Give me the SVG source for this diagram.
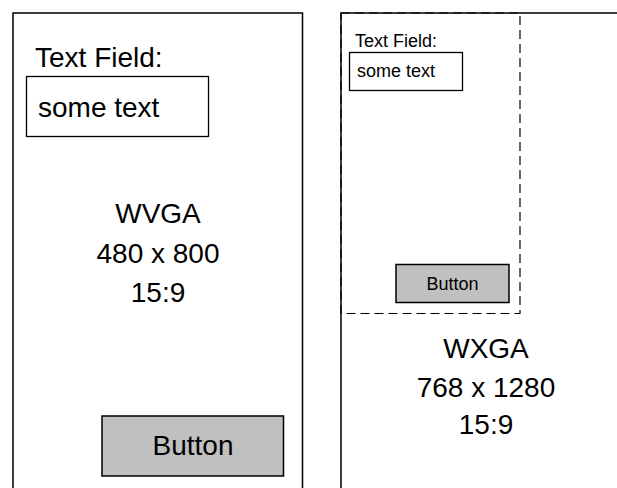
<svg xmlns="http://www.w3.org/2000/svg" width="617" height="488" viewBox="0 0 617 488">
<style>
.frame{fill:none;stroke:#000;stroke-width:1.5}
.box{fill:#fff;stroke:#000;stroke-width:1.3}
.btn{fill:#c0c0c0;stroke:#000;stroke-width:1.5}
.dash{fill:none;stroke:#000;stroke-width:1.2;stroke-dasharray:9 5}
text{font-family:"Liberation Sans",Arial,sans-serif;fill:#000}
.big{font-size:28px}
.small{font-size:18px}
.mid{text-anchor:middle}
</style>
<rect width="617" height="488" fill="#fff"/>
<g id="wvga">
<path class="frame" d="M13,490 V13 H302.5 V490"/>
<text class="big" x="35" y="67">Text Field:</text>
<rect class="box" x="26.5" y="76.5" width="182" height="60"/>
<text class="big" x="38" y="117">some text</text>
<text class="big mid" x="158" y="223">WVGA</text>
<text class="big mid" x="158" y="263">480 x 800</text>
<text class="big mid" x="158" y="302">15:9</text>
<rect class="btn" x="102" y="416" width="181.5" height="60"/>
<text class="big mid" x="193" y="455">Button</text>
</g>
<g id="wxga">
<path class="frame" d="M341,490 V13 H620"/>
<rect class="dash" x="341" y="13" width="179" height="300.5"/>
<text class="small" x="355" y="47">Text Field:</text>
<rect class="box" x="349.5" y="52.5" width="113" height="38"/>
<text class="small" x="357" y="77">some text</text>
<rect class="btn" x="396" y="264.5" width="113" height="38"/>
<text class="small mid" x="452.5" y="289.5">Button</text>
<text class="big mid" x="486" y="358">WXGA</text>
<text class="big mid" x="486" y="397">768 x 1280</text>
<text class="big mid" x="486" y="434">15:9</text>
</g>
</svg>
